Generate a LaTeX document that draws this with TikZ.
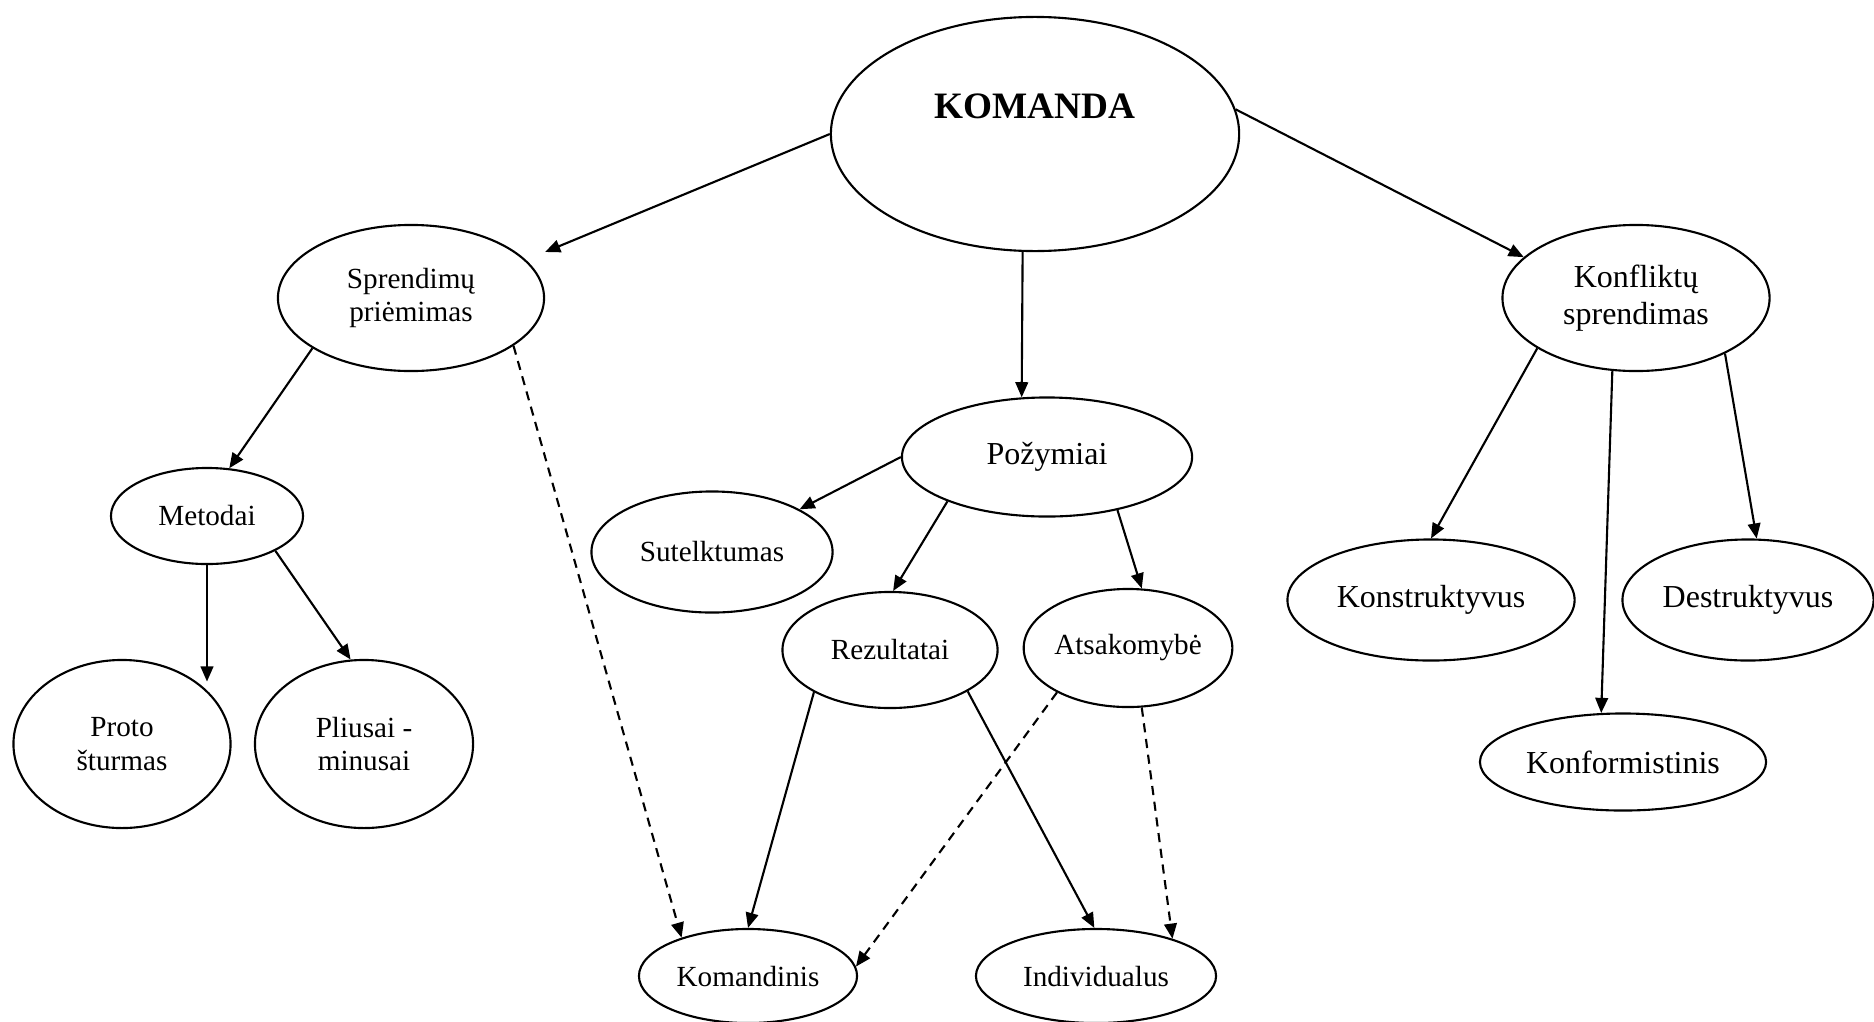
\documentclass[tikz,border=0pt]{standalone}
\usepackage{fontspec}
\setmainfont{Liberation Serif}
\usetikzlibrary{shapes.geometric,arrows.meta}
\tikzset{
    oval/.style = {
        shape     = ellipse,
        draw,
        line width = 0.6pt,
        inner sep = 0pt,
        align     = center,
        font      = \fontsize{8.3}{9.6}\selectfont,
    },
    bigoval/.style = {
        oval,
        font      = \fontsize{9.1}{10.6}\selectfont,
    },
    link/.style = {
        line width = 0.6pt,
        -{Triangle[length = 4.3pt, width = 3.6pt]},
    },
    dashlink/.style = {
        link,
        dash pattern = on 2.6pt off 1.9pt,
    },
}

\begin{document}
\begin{tikzpicture}[x = 0.01cm, y = -0.01cm]
                    \useasboundingbox (0, 0) rectangle (1874, 1021);

                    \node [oval, minimum width = 4.08cm, minimum height = 2.34cm] (komanda) at (1035, 134) {};
                    \node [font = \fontsize{10.6}{12}\selectfont\bfseries] (komandaText) at (1035, 106) {KOMANDA};

                    \begin{scope}[every node/.append style = {oval}]
                        \node [minimum width = 2.66cm, minimum height = 1.46cm] (sprend) at ( 411, 298) {Sprendimų\\priėmimas};
                        \node [minimum width = 1.92cm, minimum height = 0.96cm] (metod)  at ( 207, 516) {Metodai};
                        \node [minimum width = 2.41cm, minimum height = 1.21cm] (sutel)  at ( 712, 552) {Sutelktumas};
                        \node [minimum width = 2.15cm, minimum height = 1.16cm] (rezul)  at ( 890, 650) {Rezultatai};
                        \node [minimum width = 2.07cm, minimum height = 1.18cm] (atsak)  at (1128, 648) {Atsakomybė};
                        \node [minimum width = 2.17cm, minimum height = 1.68cm] (proto)  at ( 122, 744) {Proto\\šturmas};
                        \node [minimum width = 2.18cm, minimum height = 1.68cm] (plius)  at ( 364, 744) {Pliusai -\\minusai};
                        \node [minimum width = 2.18cm, minimum height = 0.94cm] (koman)  at ( 748, 976) {Komandinis};
                        \node [minimum width = 2.40cm, minimum height = 0.94cm] (indiv)  at (1096, 976) {Individualus};
                    \end{scope}

                    \begin{scope}[every node/.append style = {bigoval}]
                        \node [minimum width = 2.67cm, minimum height = 1.46cm] (konfl)  at (1636, 298) {Konfliktų\\sprendimas};
                        \node [minimum width = 2.90cm, minimum height = 1.19cm] (pozym)  at (1047, 457) {Požymiai};
                        \node [minimum width = 2.87cm, minimum height = 1.21cm] (konst)  at (1431, 600) {Konstruktyvus};
                        \node [minimum width = 2.51cm, minimum height = 1.21cm] (destr)  at (1748, 600) {Destruktyvus};
                        \node [minimum width = 2.86cm, minimum height = 0.97cm] (konfo)  at (1623, 762) {Konformistinis};
                    \end{scope}

                    \draw [link] (komanda.west) -- ([yshift = 0.46cm] sprend.east);
                    \draw [link] (komanda.-96) -- (pozym.113);
                    \draw [link] (komanda.7) -- (konfl.160);

                    \draw [link] (sprend.207) -- (metod.65);
                    \draw [dashlink] (sprend.-25) -- (koman.150);
                    \draw [link] (metod.south) -- (metod.south |- proto.40);
                    \draw [link] (metod.-27) -- (plius.99);

                    \draw [link] (pozym.west) -- (sutel.26);
                    \draw [link] (pozym.204) -- (rezul.87);
                    \draw [link] (pozym.-37) -- (atsak.77);

                    \draw [link] (rezul.209) -- (koman.north);
                    \draw [link] (rezul.-28) -- (indiv.92);
                    \draw [dashlink] (atsak.212) -- (koman.5);
                    \draw [dashlink] (atsak.-77) -- (indiv.26);

                    \draw [link] (konfl.207) -- (konst.north);
                    \draw [link] (konfl.-108) -- (konfo.114);
                    \draw [link] (konfl.-32) -- (destr.82);
                \end{tikzpicture}
\end{document}
